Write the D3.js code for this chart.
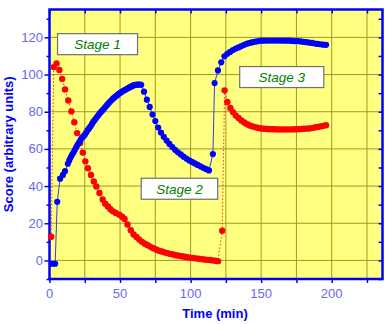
<!DOCTYPE html>
<html><head><meta charset="utf-8">
<script src="https://cdn.jsdelivr.net/npm/d3@7/dist/d3.min.js"></script>
<style>
body{margin:0;background:#fff;}
svg text{font-family:"Liberation Sans",Arial,sans-serif;}
</style></head>
<body><svg id="c" width="390" height="325"></svg>
<script>
// ---- data ----
const blueTime = [2,4,5.5,7.5,9.5,11,13,14,15,16,17,18,19,20,21,22,23,24,25,26,27,28,29,30,31,32,33,34,35,36,37,38,39,40,41,42,43,44,45,46,47,48,49,50,51,52,53,54,55,56,57,58,59,60,61,62,63,64,65,67,69,71,73,75,77,79,81,83,85,87,89,91,93,95,97,99,101,103,105,107,109,111,113,115.8,117,119.4,121.7,124,126,128,130,132,134,136,138,140,142,144,146,148,150,152,154,156,158,160,162,164,166,168,170,172,174,176,178,180,182,184,186,188,190,192,194,196];
const blueScore = [-1.8,-1.8,31.5,44,46,48,52,53.8,55.5,56.8,58,59.5,61,62.3,63.5,64.8,66,66.8,67.6,68.8,70,71,72,73.3,74.5,75.5,76.5,77.5,78.5,79.4,80.3,81.2,82,82.9,83.8,84.7,85.5,86.3,87,87.7,88.3,88.9,89.5,90.1,90.6,91.1,91.5,91.9,92.3,92.8,93.2,93.6,94,94.3,94.5,94.6,94.6,94.6,94.5,90.8,86.5,82.6,78.5,75,71.5,68.8,66.5,64.5,62.7,61,59.5,58.2,57,55.8,54.8,53.8,53,52.2,51.4,50.6,49.8,49.1,48.4,57.2,95.4,102.2,106.6,109.8,111.2,112.2,113.2,114,114.6,115.3,116,116.6,117,117.4,117.7,118,118.2,118.2,118.3,118.3,118.3,118.3,118.3,118.3,118.2,118.2,118.2,118.1,118,118,117.8,117.6,117.4,117.2,117,116.7,116.5,116.3,116.1,116];
const redTime = [1.2,3,5,7,9,11,13.3,15.5,17.6,19.6,21.7,23.6,25.4,27.2,29.4,31.4,33.2,35.4,37.7,39.5,41.4,43.2,45,47,49.5,51.5,53.2,55.3,57.6,59.6,61.6,63.6,65.6,67.6,69.6,71.6,73.6,75.6,77.6,79.6,81.6,83.6,85.6,87.6,89.6,91.6,93.6,95.6,97.6,99.6,101.6,103.6,105.6,107.6,109.6,111.6,113.6,115.6,117.6,119.4,122.4,124.1,126,128.2,130,132,134,136,138,140,142,144,146,148,150,152,154,156,158,160,162,164,166,168,170,172,174,176,178,180,182,184,186,188,190,192,194,196];
const redScore = [12.7,104,106,102.5,97.7,92,86,80.2,74.3,68.5,63.2,58,53.3,49.6,46,42.5,39.8,36.3,32.8,30.5,29,27.5,26.4,25.5,24.6,23.5,22.3,19.3,16.2,14,12.6,11.2,10,9,8.2,7.3,6.6,5.9,5.2,4.8,4.3,3.9,3.5,3.2,2.8,2.5,2.2,2,1.7,1.5,1.3,1.1,0.9,0.7,0.5,0.3,0.2,0,-0.2,-0.4,16,91.5,85.2,82,79.8,78,76.6,75.3,74.2,73.3,72.6,72.1,71.7,71.3,71,70.8,70.7,70.6,70.6,70.6,70.5,70.5,70.5,70.5,70.5,70.5,70.6,70.6,70.7,70.8,70.9,71,71.2,71.5,71.8,72.1,72.4,72.7];
const xTicks = [0,50,100,150,200];
const yTicks = [0,20,40,60,80,100,120];
const stageLabels = ["Stage 1","Stage 2","Stage 3"];
const stageX = [5.7,65,134.8];     // label box left (time units)
const stageY = [122,44.2,104.3];   // label box top (score units)
const stageW = [56.7,54.2,59.6];   // box width (time units)

// ---- layout ----
const L=49.5, R=382.5, T=9.5, B=279;
const svg=d3.select("#c");
const x=d3.scaleLinear().domain([0,236]).range([L,R]);
const y=d3.scaleLinear().domain([-10,135]).range([B,T]);

svg.append("rect").attr("x",L).attr("y",T).attr("width",R-L).attr("height",B-T).attr("fill","#ffff80");

// grid
const g=svg.append("g").attr("stroke","#9a9a2a").attr("stroke-width",1);
d3.range(25,236,25).forEach(v=>g.append("line").attr("x1",x(v)).attr("x2",x(v)).attr("y1",T).attr("y2",B));
d3.range(0,135,20).forEach(v=>g.append("line").attr("x1",L).attr("x2",R).attr("y1",y(v)).attr("y2",y(v)));

// axes
const blue="#0000ff";
function styleAx(sel){sel.select(".domain").remove();sel.selectAll("line").attr("stroke",blue).attr("stroke-width",1.5);sel.selectAll("text").remove();}
svg.append("g").attr("transform",`translate(0,${B})`).call(d3.axisBottom(x).tickValues(d3.range(0,236,25)).tickSize(4)).call(styleAx);
svg.append("g").attr("transform",`translate(0,${T})`).call(d3.axisBottom(x).tickValues(d3.range(0,236,25)).tickSize(4)).call(styleAx);
svg.append("g").attr("transform",`translate(${L},0)`).call(d3.axisLeft(y).tickValues(yTicks).tickSize(5)).call(styleAx);
svg.append("g").attr("transform",`translate(${L},0)`).call(d3.axisLeft(y).tickValues(d3.range(-10,135,20)).tickSize(3)).call(styleAx);
svg.append("g").attr("transform",`translate(${R},0)`).call(d3.axisLeft(y).tickValues(d3.range(-10,135,10)).tickSize(4)).call(styleAx);

svg.append("rect").attr("x",L).attr("y",T).attr("width",R-L).attr("height",B-T).attr("fill","none").attr("stroke",blue).attr("stroke-width",2.5);

// tick labels
svg.append("g").selectAll("text").data(xTicks).join("text")
  .attr("x",d=>x(d)).attr("y",298).attr("text-anchor","middle").attr("font-size",13).attr("fill","#6868f0").text(d=>d);
svg.append("g").selectAll("text").data(yTicks).join("text")
  .attr("x",43).attr("y",d=>y(d)+4.5).attr("text-anchor","end").attr("font-size",13).attr("fill","#6868f0").text(d=>d);

// axis titles
svg.append("text").attr("x",215).attr("y",318).attr("text-anchor","middle").attr("font-size",13).attr("font-weight","bold").attr("fill",blue).text("Time (min)");
svg.append("text").attr("transform",`translate(13,${(T+B)/2}) rotate(-90)`).attr("text-anchor","middle").attr("font-size",13).attr("font-weight","bold").attr("fill",blue).text("Score (arbitrary units)");

// series
const blueData=blueTime.map((t,i)=>[t,blueScore[i]]);
const redData=redTime.map((t,i)=>[t,redScore[i]]);
const line=d3.line().x(d=>x(d[0])).y(d=>y(d[1]));
svg.append("path").datum(redData).attr("d",line).attr("fill","none").attr("stroke","#ff3020").attr("stroke-width",1).attr("stroke-dasharray","1.5,2");
svg.append("path").datum(blueData).attr("d",line).attr("fill","none").attr("stroke","#3a3ae0").attr("stroke-width",1);
svg.append("g").selectAll("circle").data(redData).join("circle").attr("cx",d=>x(d[0])).attr("cy",d=>y(d[1])).attr("r",3.2).attr("fill","#ff0000");
svg.append("g").selectAll("circle").data(blueData).join("circle").attr("cx",d=>x(d[0])).attr("cy",d=>y(d[1])).attr("r",3.1).attr("fill","#0000ff");

// stage labels
stageLabels.forEach((s,i)=>{
  const bx=x(stageX[i]), by=y(stageY[i]), bw=x(stageX[i]+stageW[i])-x(stageX[i]);
  svg.append("rect").attr("x",bx).attr("y",by).attr("width",bw).attr("height",21).attr("fill","#fff").attr("stroke","#707070").attr("stroke-width",1.2);
  svg.append("text").attr("x",bx+bw/2).attr("y",by+15.5).attr("text-anchor","middle").attr("font-size",13.5).attr("font-style","italic").attr("fill","#008000").text(s);
});
</script></body></html>
